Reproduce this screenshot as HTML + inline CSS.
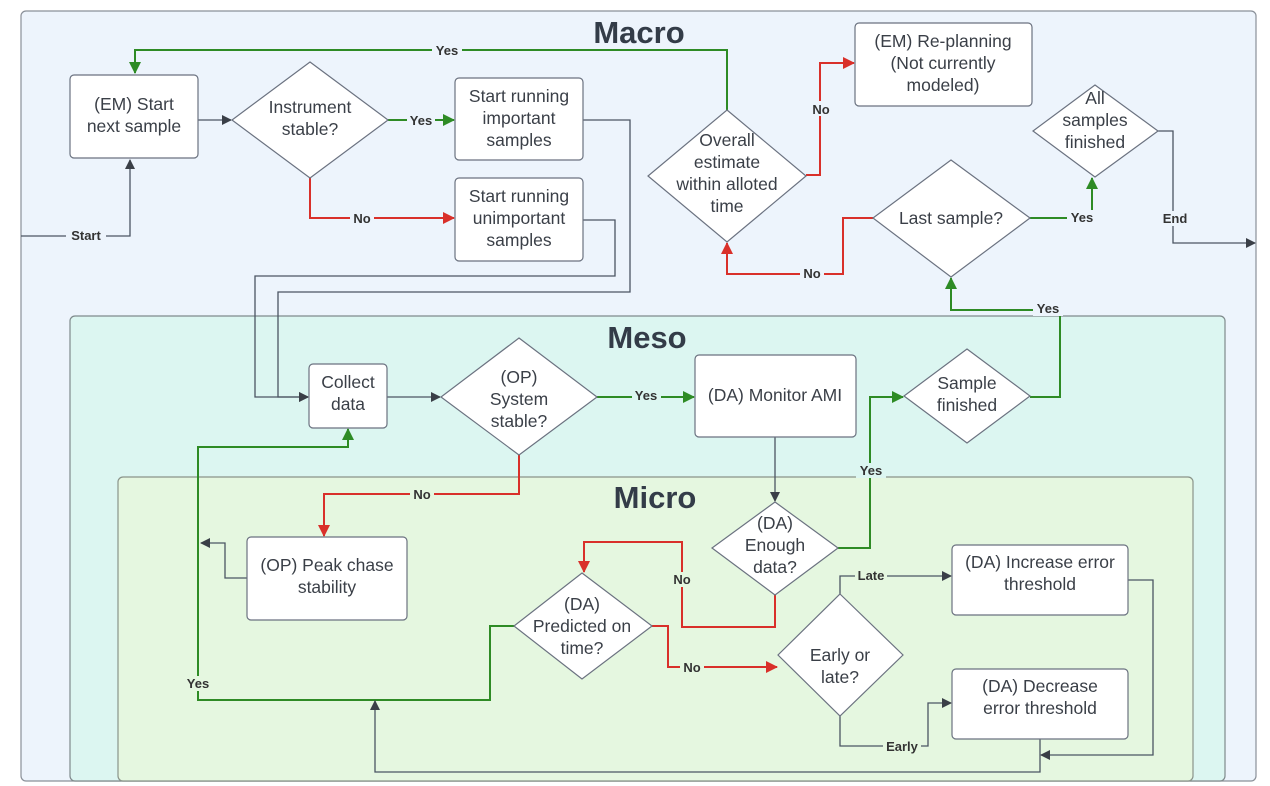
<!DOCTYPE html>
<html><head><meta charset="utf-8"><style>
html,body{margin:0;padding:0;background:#fff;}
svg{display:block;font-family:"Liberation Sans",Arial,sans-serif;}
.n{fill:#fff;stroke:#6b7280;stroke-width:1.2;}
.t{font-size:17.5px;fill:#3a3f47;text-anchor:middle;}
.l{font-size:13px;font-weight:bold;fill:#333;text-anchor:middle;}
.k{fill:none;stroke:#4b5563;stroke-width:1.3;}
.g{fill:none;stroke:#2e8b25;stroke-width:2;}
.r{fill:none;stroke:#d9302a;stroke-width:2;}
.h{font-size:31px;font-weight:bold;fill:#333c48;text-anchor:middle;}
</style></head><body>
<svg width="1270" height="786" viewBox="0 0 1270 786">
<defs>
<marker id="ak" markerWidth="10" markerHeight="10" refX="9" refY="5" orient="auto" markerUnits="userSpaceOnUse"><path d="M0,0 L10,5 L0,10z" fill="#3a3f47"/></marker>
<marker id="ag" markerWidth="12" markerHeight="12" refX="11" refY="6" orient="auto" markerUnits="userSpaceOnUse"><path d="M0,0 L12,6 L0,12z" fill="#2e8b25"/></marker>
<marker id="ar" markerWidth="12" markerHeight="12" refX="11" refY="6" orient="auto" markerUnits="userSpaceOnUse"><path d="M0,0 L12,6 L0,12z" fill="#d9302a"/></marker>
</defs>
<rect x="21" y="11" width="1235" height="770" rx="5" fill="#edf4fc" stroke="#8a9099" stroke-width="1.2"/>
<rect x="70" y="316" width="1155" height="465" rx="5" fill="#dcf6f1" stroke="#7f8a8c" stroke-width="1.2"/>
<rect x="118" y="477" width="1075" height="304" rx="5" fill="#e5f7e0" stroke="#8a948a" stroke-width="1.2"/>
<text class="h" x="639" y="43">Macro</text>
<text class="h" x="647" y="348">Meso</text>
<text class="h" x="655" y="508">Micro</text>

<path class="k" d="M21,236 H130 V160" marker-end="url(#ak)"/>
<path class="g" d="M727,110 V50 H135 V73" marker-end="url(#ag)"/>
<path class="k" d="M198,120 H231" marker-end="url(#ak)"/>
<path class="g" d="M388,120 H454" marker-end="url(#ag)"/>
<path class="r" d="M310,178 V218 H454" marker-end="url(#ar)"/>
<path class="k" d="M583,120 H630 V292 H278 V397 H308" marker-end="url(#ak)"/>
<path class="k" d="M583,220 H615 V276 H255 V397 H308" marker-end="url(#ak)"/>
<path class="k" d="M387,397 H440" marker-end="url(#ak)"/>
<path class="g" d="M597,397 H694" marker-end="url(#ag)"/>
<path class="k" d="M775,437 V501" marker-end="url(#ak)"/>
<path class="g" d="M838,548 H870 V397 H903" marker-end="url(#ag)"/>
<path class="g" d="M1030,397 H1060 V310 H951 V278" marker-end="url(#ag)"/>
<path class="g" d="M1030,218 H1092 V178" marker-end="url(#ag)"/>
<path class="r" d="M873,218 H843 V274 H727 V243" marker-end="url(#ar)"/>
<path class="r" d="M806,175 H820 V63 H854" marker-end="url(#ar)"/>
<path class="k" d="M1158,131 H1173 V243 H1255" marker-end="url(#ak)"/>
<path class="r" d="M519,454 V494 H324 V536" marker-end="url(#ar)"/>
<path class="k" d="M247,578 H225 V543 H201" marker-end="url(#ak)"/>
<path class="g" d="M514,626 H490 V700 H198 V447 H348 V429" marker-end="url(#ag)"/>
<path class="r" d="M775,595 V627 H682 V542 H584 V572" marker-end="url(#ar)"/>
<path class="r" d="M652,626 H668 V667 H777" marker-end="url(#ar)"/>
<path class="k" d="M840,594 V576 H951" marker-end="url(#ak)"/>
<path class="k" d="M840,713 V746 H928 V703 H951" marker-end="url(#ak)"/>
<path class="k" d="M1128,580 H1153 V755 H1041" marker-end="url(#ak)"/>
<path class="k" d="M1040,739 V772 H375 V701" marker-end="url(#ak)"/>

<g class="l">
<rect x="66" y="228" width="40" height="15" fill="#edf4fc"/><text x="86" y="240">Start</text>
<rect x="432" y="43" width="30" height="15" fill="#edf4fc"/><text x="447" y="55">Yes</text>
<rect x="407" y="113" width="28" height="15" fill="#edf4fc"/><text x="421" y="125">Yes</text>
<rect x="350" y="211" width="24" height="15" fill="#edf4fc"/><text x="362" y="223">No</text>
<rect x="632" y="388" width="29" height="15" fill="#dcf6f1"/><text x="646" y="400">Yes</text>
<rect x="856" y="463" width="30" height="15" fill="#dcf6f1"/><text x="871" y="475">Yes</text>
<rect x="1033" y="301" width="30" height="15" fill="#edf4fc"/><text x="1048" y="313">Yes</text>
<rect x="1067" y="210" width="30" height="15" fill="#edf4fc"/><text x="1082" y="222">Yes</text>
<rect x="800" y="266" width="24" height="15" fill="#edf4fc"/><text x="812" y="278">No</text>
<rect x="809" y="101" width="24" height="15" fill="#edf4fc"/><text x="821" y="114">No</text>
<rect x="1159" y="211" width="32" height="15" fill="#edf4fc"/><text x="1175" y="223">End</text>
<rect x="410" y="487" width="24" height="15" fill="#e5f7e0"/><text x="422" y="499">No</text>
<rect x="183" y="676" width="30" height="15" fill="#e5f7e0"/><text x="198" y="688">Yes</text>
<rect x="670" y="572" width="24" height="15" fill="#e5f7e0"/><text x="682" y="584">No</text>
<rect x="680" y="660" width="24" height="15" fill="#e5f7e0"/><text x="692" y="672">No</text>
<rect x="855" y="568" width="32" height="15" fill="#e5f7e0"/><text x="871" y="580">Late</text>
<rect x="883" y="739" width="38" height="15" fill="#e5f7e0"/><text x="902" y="751">Early</text>
</g>

<rect class="n" x="70" y="75" width="128" height="83" rx="4"/>
<text class="t" x="134" y="110">(EM) Start</text><text class="t" x="134" y="132">next sample</text>
<path class="n" d="M310,62 L388,120 L310,178 L232,120z"/>
<text class="t" x="310" y="113">Instrument</text><text class="t" x="310" y="135">stable?</text>
<rect class="n" x="455" y="78" width="128" height="82" rx="4"/>
<text class="t" x="519" y="102">Start running</text><text class="t" x="519" y="124">important</text><text class="t" x="519" y="146">samples</text>
<rect class="n" x="455" y="178" width="128" height="83" rx="4"/>
<text class="t" x="519" y="202">Start running</text><text class="t" x="519" y="224">unimportant</text><text class="t" x="519" y="246">samples</text>
<path class="n" d="M727,110 L806,176 L727,242 L648,176z"/>
<text class="t" x="727" y="146">Overall</text><text class="t" x="727" y="168">estimate</text><text class="t" x="727" y="190">within alloted</text><text class="t" x="727" y="212">time</text>
<rect class="n" x="855" y="23" width="177" height="83" rx="4"/>
<text class="t" x="943" y="47">(EM) Re-planning</text><text class="t" x="943" y="69">(Not currently</text><text class="t" x="943" y="91">modeled)</text>
<path class="n" d="M1095,85 L1158,131 L1095,177 L1033,131z"/>
<text class="t" x="1095" y="104">All</text><text class="t" x="1095" y="126">samples</text><text class="t" x="1095" y="148">finished</text>
<path class="n" d="M951,160 L1030,218 L951,277 L873,218z"/>
<text class="t" x="951" y="224">Last sample?</text>
<rect class="n" x="309" y="364" width="78" height="64" rx="4"/>
<text class="t" x="348" y="388">Collect</text><text class="t" x="348" y="410">data</text>
<path class="n" d="M519,338 L597,397 L519,455 L441,397z"/>
<text class="t" x="519" y="383">(OP)</text><text class="t" x="519" y="405">System</text><text class="t" x="519" y="427">stable?</text>
<rect class="n" x="695" y="355" width="161" height="82" rx="4"/>
<text class="t" x="775" y="401">(DA) Monitor AMI</text>
<path class="n" d="M967,349 L1030,396 L967,443 L904,396z"/>
<text class="t" x="967" y="389">Sample</text><text class="t" x="967" y="411">finished</text>
<path class="n" d="M775,502 L838,548 L775,595 L712,548z"/>
<text class="t" x="775" y="529">(DA)</text><text class="t" x="775" y="551">Enough</text><text class="t" x="775" y="573">data?</text>
<rect class="n" x="247" y="537" width="160" height="83" rx="4"/>
<text class="t" x="327" y="571">(OP) Peak chase</text><text class="t" x="327" y="593">stability</text>
<path class="n" d="M582,573 L652,626 L582,679 L514,626z"/>
<text class="t" x="582" y="610">(DA)</text><text class="t" x="582" y="632">Predicted on</text><text class="t" x="582" y="654">time?</text>
<path class="n" d="M840,594 L903,655 L840,716 L778,655z"/>
<text class="t" x="840" y="661">Early or</text><text class="t" x="840" y="683">late?</text>
<rect class="n" x="952" y="545" width="176" height="70" rx="4"/>
<text class="t" x="1040" y="568">(DA) Increase error</text><text class="t" x="1040" y="590">threshold</text>
<rect class="n" x="952" y="669" width="176" height="70" rx="4"/>
<text class="t" x="1040" y="692">(DA) Decrease</text><text class="t" x="1040" y="714">error threshold</text>
</svg>
</body></html>
